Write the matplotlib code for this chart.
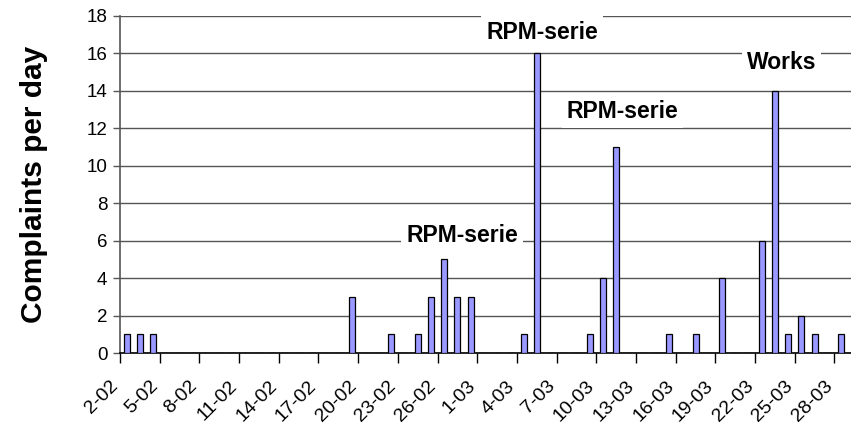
import matplotlib.pyplot as plt
import matplotlib.transforms as mtransforms
import numpy as np

plt.rcParams['font.family'] = ['Liberation Sans', 'DejaVu Sans']

# daily complaints, 2-02 .. 28-03
days = ['%d-02' % d for d in range(2, 29)] + ['%d-03' % d for d in range(1, 29)]
counts = [1, 1, 1, 0, 0, 0, 0, 0, 0, 0, 0, 0, 0, 0, 0, 0, 0, 3, 0, 0,
          1, 0, 1, 3, 5, 3, 3, 0, 0, 0, 1, 16, 0, 0, 0, 1, 4, 11, 0, 0,
          0, 1, 0, 1, 0, 4, 0, 0, 6, 14, 1, 2, 1, 0, 1]
tick_labels = days[::3]

notes = ['RPM-serie', 'RPM-serie', 'RPM-serie', 'Works']
note_x = [25.35, 31.4, 37.5, 49.5]
note_y = [6.25, 17.1, 12.9, 15.5]

fig = plt.figure(figsize=(8.51, 4.30), dpi=100)
ax = fig.add_axes([0.141, 0.179, 0.859, 0.784])

x = np.arange(len(days))
ax.bar(x, counts, width=0.45, color='#9999ff', edgecolor='black', linewidth=0.9, zorder=3)

ax.set_xlim(-0.5, 54.75)
ax.set_ylim(0, 18)
ax.set_yticks(np.arange(0, 19, 2))
ax.yaxis.grid(True, color='#555555', linewidth=1.0, zorder=0)

ax.set_xticks(x[::3])
ax.set_xticklabels(tick_labels, rotation=45, ha='right', va='center', rotation_mode='anchor')
ax.set_xticks(np.arange(-0.5, 55, 3), minor=True)
ax.tick_params(axis='x', which='major', length=0, pad=22, labelsize=14)
ax.tick_params(axis='x', which='minor', length=7, width=1, color='black', direction='out')
ax.tick_params(axis='y', length=5, width=1, color='#555555', labelsize=13.5, pad=4)

# shift x labels to the left, like the original
shift = mtransforms.ScaledTranslation(-11 / 100, 0, fig.dpi_scale_trans)
for lab in ax.get_xticklabels():
    lab.set_transform(lab.get_transform() + shift)

for s in ['top', 'right']:
    ax.spines[s].set_visible(False)
ax.spines['left'].set_color('#555555')
ax.spines['left'].set_linewidth(1.2)
ax.spines['bottom'].set_color('black')
ax.spines['bottom'].set_linewidth(1.2)

ax.set_ylabel('Complaints per day', fontsize=21.5, fontweight='bold')
ax.yaxis.set_label_coords(-0.098, 0.5)

for t, xx, yy in zip(notes, note_x, note_y):
    ax.text(xx, yy, t, ha='center', va='center', fontsize=16.5, fontweight='bold', zorder=4,
            bbox=dict(facecolor='white', edgecolor='none', pad=3.5))

plt.savefig('out.png', dpi=100)
